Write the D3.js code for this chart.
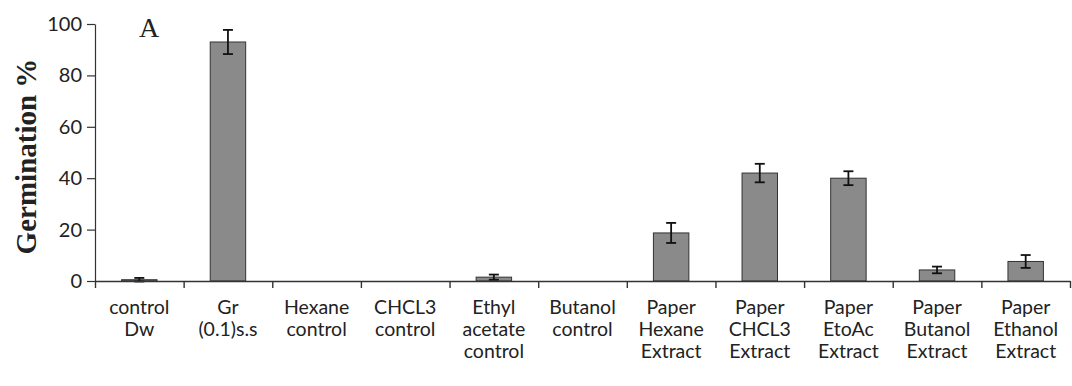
<!DOCTYPE html>
<html>
<head>
<meta charset="utf-8">
<script src="https://cdn.jsdelivr.net/npm/d3@7"></script>
<style>
body{margin:0;background:#fff;}
.tick text{font-family:Lato,"Open Sans",sans-serif;}
</style>
</head>
<body>
<svg id="chart"></svg>
<script>
// categories (each label split into lines)
var categories=["control Dw","Gr (0.1)s.s","Hexane control","CHCL3 control","Ethyl acetate control","Butanol control","Paper Hexane Extract","Paper CHCL3 Extract","Paper EtoAc Extract","Paper Butanol Extract","Paper Ethanol Extract"]
var labelLines=[["control","Dw"],["Gr","(0.1)s.s"],["Hexane","control"],["CHCL3","control"],["Ethyl","acetate","control"],["Butanol","control"],["Paper","Hexane","Extract"],["Paper","CHCL3","Extract"],["Paper","EtoAc","Extract"],["Paper","Butanol","Extract"],["Paper","Ethanol","Extract"]]
var germination=[0.5,93,0,0,1.5,0,18.7,42,40,4.3,7.6]
var errors=[0.7,4.7,0,0,1,0,3.9,3.6,2.7,1.3,2.5]
var yTicks=[0,20,40,60,80,100]

var screen={width:1072,height:386}
var margins={left:95,right:2,top:24,bottom:105}
var graph={
    width:screen.width-margins.left-margins.right,
    height:screen.height-margins.top-margins.bottom
}

var svg=d3.select("#chart")
    .attr("width",screen.width)
    .attr("height",screen.height)

var xScale=d3.scaleBand()
    .domain(categories)
    .range([0,graph.width])
    .paddingInner(0.6)
    .paddingOuter(0.3)
var xEdge=d3.scaleLinear()
    .domain([0,categories.length])
    .range([0,graph.width])
var yScale=d3.scaleLinear()
    .domain([0,100])
    .range([graph.height,0])

var plot=svg.append("g")
    .attr("transform","translate("+margins.left+","+margins.top+")")

//put value + error + category together
var rows=categories.map(function(c,i){
    return {cat:c,value:germination[i],err:errors[i]}
})

//bars
plot.selectAll("rect.bar")
    .data(rows)
    .enter()
    .append("rect")
    .classed("bar",true)
    .attr("x",function(d){return xScale(d.cat)})
    .attr("y",function(d){return yScale(d.value)})
    .attr("width",xScale.bandwidth())
    .attr("height",function(d){return graph.height-yScale(d.value)})
    .attr("fill","#8a8a8a")
    .attr("stroke","#333")
    .attr("stroke-width",1)

//error bars
var errG=plot.selectAll("g.err")
    .data(rows.filter(function(d){return d.err>0}))
    .enter()
    .append("g")
    .classed("err",true)
    .attr("transform",function(d){return "translate("+(xScale(d.cat)+xScale.bandwidth()/2)+",0)"})
    .attr("stroke","#111")
    .attr("stroke-width",1.8)
errG.append("line")
    .attr("y1",function(d){return yScale(d.value+d.err)})
    .attr("y2",function(d){return yScale(d.value-d.err)})
errG.append("line")
    .attr("x1",-5).attr("x2",5)
    .attr("y1",function(d){return yScale(d.value+d.err)})
    .attr("y2",function(d){return yScale(d.value+d.err)})
errG.append("line")
    .attr("x1",-5).attr("x2",5)
    .attr("y1",function(d){return yScale(d.value-d.err)})
    .attr("y2",function(d){return yScale(d.value-d.err)})

//axes
var yAxis=d3.axisLeft(yScale).tickValues(yTicks).tickSize(8).tickSizeOuter(0).tickPadding(5)
var yG=plot.append("g").call(yAxis)
yG.selectAll("text").attr("font-size",20).attr("fill","#222")
yG.selectAll("line,path").attr("stroke","#333").attr("stroke-width",1.2)

var xAxis=d3.axisBottom(xEdge).ticks(categories.length).tickFormat("").tickSize(7).tickSizeOuter(0)
var xG=plot.append("g").attr("transform","translate(0,"+graph.height+")").call(xAxis)
xG.selectAll("line,path").attr("stroke","#333").attr("stroke-width",1.4)

//category labels
var labels=plot.append("g")
    .attr("font-family","Lato,'Open Sans',sans-serif")
    .attr("font-size",19.5)
    .attr("fill","#222")
    .attr("text-anchor","middle")
labels.selectAll("text")
    .data(labelLines)
    .enter()
    .append("text")
    .attr("transform",function(d,i){return "translate("+(xScale(categories[i])+xScale.bandwidth()/2)+","+(graph.height+33)+")"})
    .selectAll("tspan")
    .data(function(d){return d})
    .enter()
    .append("tspan")
    .attr("x",0)
    .attr("y",function(d,j){return j*22})
    .text(function(d){return d})

//titles
svg.append("g")
    .attr("transform","translate(36,"+(margins.top+graph.height/2+4)+")")
    .append("text")
    .text("Germination %")
    .attr("transform","rotate(-90)")
    .attr("text-anchor","middle")
    .attr("font-family","'Liberation Serif','Times New Roman',serif")
    .attr("font-weight","bold")
    .attr("font-size",29)
    .attr("fill","#222")
svg.append("text")
    .text("A")
    .attr("x",139)
    .attr("y",37)
    .attr("font-family","'Liberation Serif','Times New Roman',serif")
    .attr("font-size",28)
    .attr("fill","#222")
</script>
</body>
</html>
